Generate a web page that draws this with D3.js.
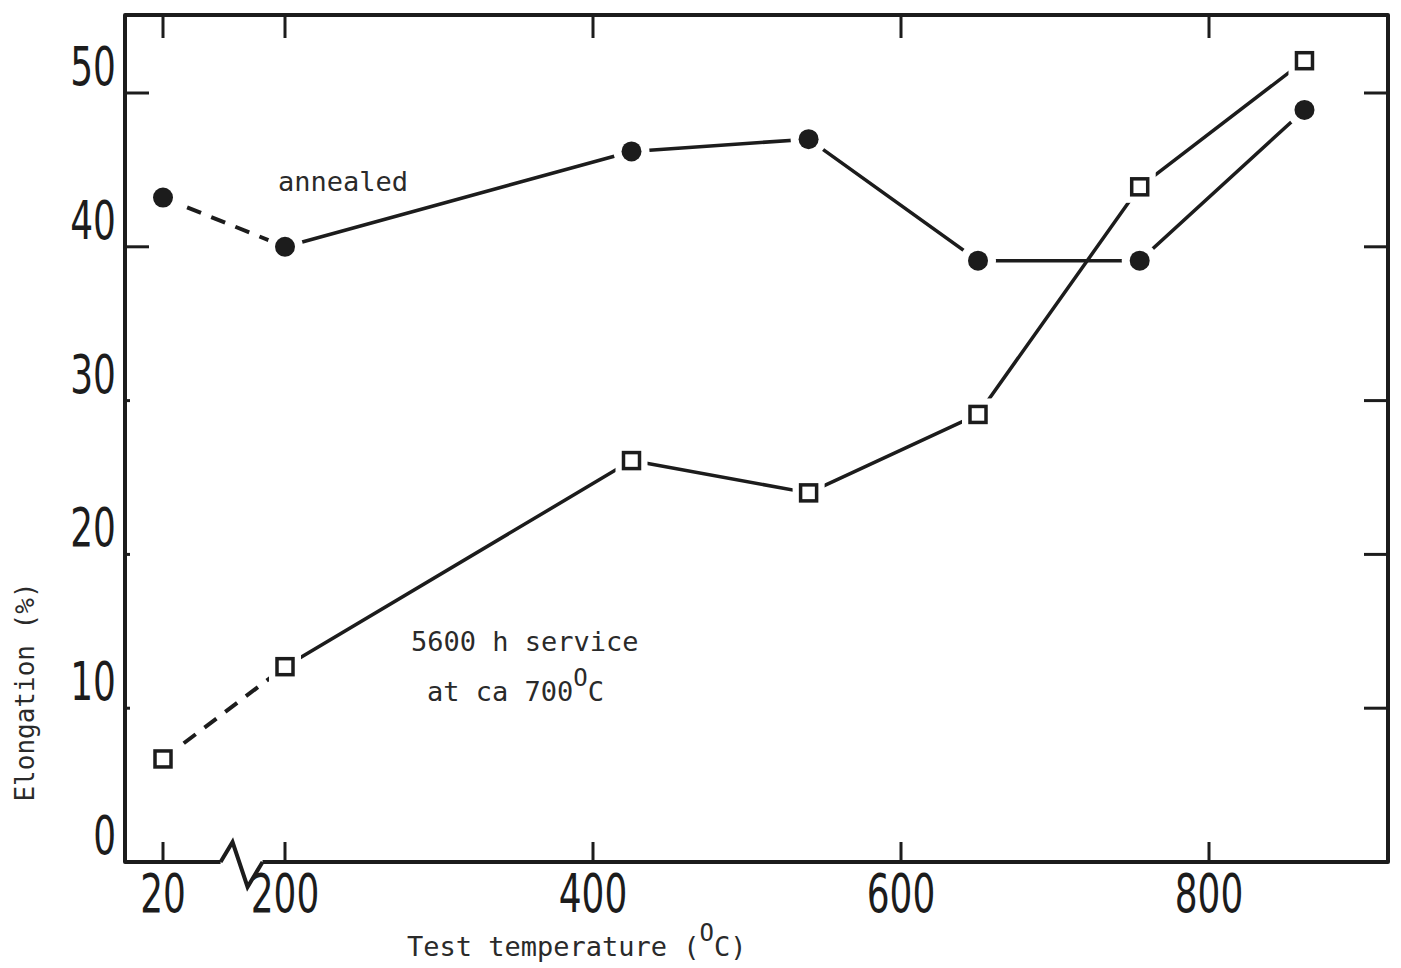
<!DOCTYPE html>
<html>
<head>
<meta charset="utf-8">
<script src="https://cdn.jsdelivr.net/npm/d3@7"></script>
<style>
  html, body { margin: 0; padding: 0; background: #fff; }
  #chart { width: 1401px; height: 968px; }
  .tick-label { font-family: "DejaVu Sans Condensed", "DejaVu Sans", sans-serif; font-size: 54px; fill: #1c1c1c; }
  .mono { font-family: "DejaVu Sans Mono", monospace; font-size: 27px; fill: #2a2a2a; }
</style>
</head>
<body>
<div id="chart"></div>
<script>
// Elongation vs test temperature, annealed vs 5600 h service at ca 700 °C

const temps = [20, 200, 425, 540, 650, 755, 862];
const annealed = [43.2, 40.0, 46.2, 47.0, 39.1, 39.1, 48.9];
const service = [6.7, 12.7, 26.1, 24.0, 29.1, 43.9, 52.1];

const xTicks = [20, 200, 400, 600, 800];
const yTicks = [0, 10, 20, 30, 40, 50];

const frame = { left: 125, right: 1388, top: 15, bottom: 862 };
const ink = '#1c1c1c';

const svg = d3.select('#chart')
  .append('svg')
  .attr('width', 1401)
  .attr('height', 968);

// broken axis: 20 sits left of the break, the rest is linear
const x = d3.scaleLinear().domain([20, 200, 800]).range([163, 285, 1209]);
const y = d3.scaleLinear().domain([0, 50]).range([862, 93]);

// Frame (bottom has a break between 20 and 200)
const bx = x(130);
svg.append('path')
  .attr('d', `M${bx - 17},${frame.bottom} L${frame.left},${frame.bottom} L${frame.left},${frame.top} ` +
    `L${frame.right},${frame.top} L${frame.right},${frame.bottom} L${bx + 25},${frame.bottom}`)
  .attr('fill', 'none')
  .attr('stroke', ink)
  .attr('stroke-width', 4)
  .attr('stroke-linejoin', 'round');

svg.append('path')
  .attr('d', `M${bx - 17},${frame.bottom} L${bx - 5},${frame.bottom - 20} L${bx + 10},${frame.bottom + 25} L${bx + 25},${frame.bottom}`)
  .attr('fill', 'none')
  .attr('stroke', ink)
  .attr('stroke-width', 4)
  .attr('stroke-linejoin', 'miter');

// X ticks, top and bottom, pointing inward
const tickG = svg.append('g').attr('stroke', ink).attr('stroke-width', 3);
tickG.selectAll('.xb')
  .data(xTicks)
  .join('line')
  .attr('x1', d => x(d)).attr('x2', d => x(d))
  .attr('y1', frame.bottom).attr('y2', frame.bottom - 20);
tickG.selectAll('.xt')
  .data(xTicks)
  .join('line')
  .attr('x1', d => x(d)).attr('x2', d => x(d))
  .attr('y1', frame.top).attr('y2', frame.top + 23);

// Y ticks: long at 40/50 on the left, all on the right
tickG.selectAll('.yl')
  .data(yTicks.filter(d => d > 0))
  .join('line')
  .attr('x1', frame.left).attr('x2', d => frame.left + (d >= 40 ? 24 : 5))
  .attr('y1', d => y(d)).attr('y2', d => y(d));
tickG.selectAll('.yr')
  .data(yTicks.filter(d => d > 0))
  .join('line')
  .attr('x1', frame.right).attr('x2', frame.right - 24)
  .attr('y1', d => y(d)).attr('y2', d => y(d));

// Tick labels (condensed stencil look -> squeeze horizontally)
svg.selectAll('.xlab')
  .data(xTicks)
  .join('text')
  .attr('class', 'tick-label')
  .attr('transform', d => `translate(${x(d)},${frame.bottom + 50}) scale(0.74,1)`)
  .attr('text-anchor', 'middle')
  .text(d => d);

svg.selectAll('.ylab')
  .data(yTicks)
  .join('text')
  .attr('class', 'tick-label')
  .attr('transform', d => `translate(116,${y(d) - 8}) scale(0.74,1)`)
  .attr('text-anchor', 'end')
  .text(d => d);

// Axis titles
const xt = svg.append('text')
  .attr('class', 'mono')
  .attr('x', 407)
  .attr('y', 956);
xt.append('tspan').text('Test temperature (');
xt.append('tspan').attr('dy', -15).style('font-size', '24px').text('O');
xt.append('tspan').attr('dy', 15).text('C)');

svg.append('text')
  .attr('class', 'mono')
  .style('font-size', '26px')
  .attr('transform', 'translate(34,692) rotate(-90)')
  .attr('text-anchor', 'middle')
  .text('Elongation (%)');

// Series lines: first segment dashed, the rest solid
const line = d3.line().x(d => x(d[0])).y(d => y(d[1]));

function drawSeries(values) {
  const pts = temps.map((t, i) => [t, values[i]]);
  svg.append('path')
    .attr('d', line(pts.slice(0, 2)))
    .attr('fill', 'none')
    .attr('stroke', ink)
    .attr('stroke-width', 4)
    .attr('stroke-dasharray', '15 11');
  svg.append('path')
    .attr('d', line(pts.slice(1)))
    .attr('fill', 'none')
    .attr('stroke', ink)
    .attr('stroke-width', 3.5)
    .attr('stroke-linejoin', 'round');
  return pts;
}

const aPts = drawSeries(annealed);
const sPts = drawSeries(service);

// Markers with white halo so lines stop short of them
svg.selectAll('.a-halo')
  .data(aPts)
  .join('circle')
  .attr('cx', d => x(d[0])).attr('cy', d => y(d[1]))
  .attr('r', 18).attr('fill', '#fff');
svg.selectAll('.a-dot')
  .data(aPts)
  .join('circle')
  .attr('cx', d => x(d[0])).attr('cy', d => y(d[1]))
  .attr('r', 10).attr('fill', ink);

svg.selectAll('.s-halo')
  .data(sPts)
  .join('rect')
  .attr('x', d => x(d[0]) - 16).attr('y', d => y(d[1]) - 16)
  .attr('width', 32).attr('height', 32)
  .attr('fill', '#fff');
svg.selectAll('.s-box')
  .data(sPts)
  .join('rect')
  .attr('x', d => x(d[0]) - 8).attr('y', d => y(d[1]) - 8)
  .attr('width', 16).attr('height', 16)
  .attr('fill', '#fff')
  .attr('stroke', ink)
  .attr('stroke-width', 3.5);

// Annotations
svg.append('text')
  .attr('class', 'mono')
  .attr('x', 278)
  .attr('y', 191)
  .text('annealed');

svg.append('text')
  .attr('class', 'mono')
  .attr('x', 411)
  .attr('y', 651)
  .text('5600 h service');

const t2 = svg.append('text')
  .attr('class', 'mono')
  .attr('x', 427)
  .attr('y', 701);
t2.append('tspan').text('at ca 700');
t2.append('tspan').attr('dy', -15).style('font-size', '24px').text('O');
t2.append('tspan').attr('dy', 15).text('C');
</script>
</body>
</html>
